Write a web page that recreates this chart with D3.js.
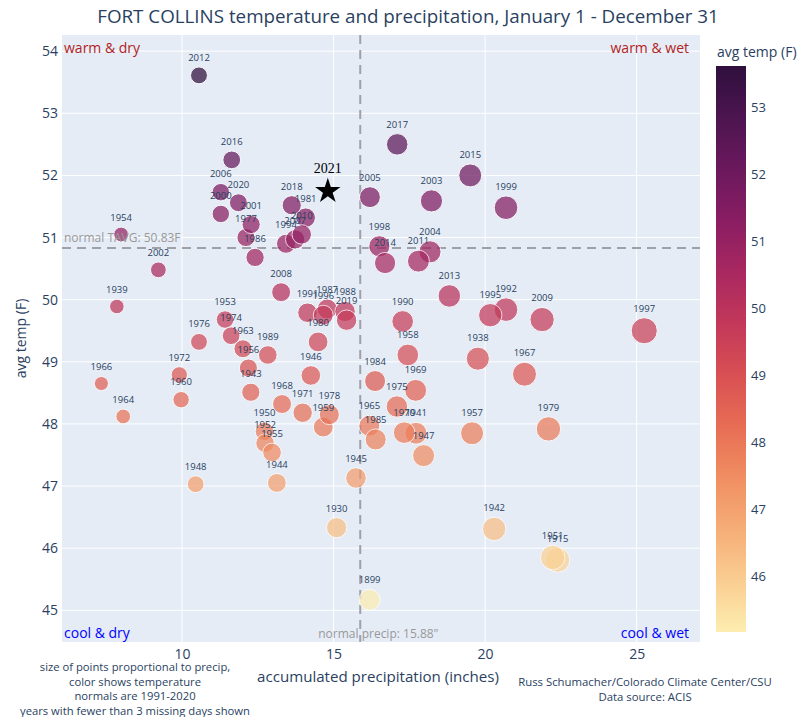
<!DOCTYPE html>
<html>
<head>
<meta charset="utf-8">
<script src="https://cdn.jsdelivr.net/npm/d3@7"></script>
<style>
  html, body { margin: 0; padding: 0; background: #fff; }
  svg { display: block; font-family: "Open Sans", "DejaVu Sans", sans-serif; }
</style>
</head>
<body>
<svg id="chart" width="806" height="717"></svg>
<script>
// ---------------- data ----------------
const years  = [1899,1915,1930,1938,1939,1941,1942,1943,1944,1945,1946,1947,1948,1950,1951,1952,1953,1954,1955,1956,1957,1958,1959,1960,1963,1964,1965,1966,1967,1968,1969,1970,1971,1972,1974,1975,1976,1977,1978,1979,1980,1981,1984,1985,1986,1987,1988,1989,1990,1991,1992,1994,1995,1996,1997,1998,1999,2000,2001,2002,2003,2004,2005,2006,2007,2008,2009,2010,2011,2012,2013,2014,2015,2016,2017,2018,2019,2020];
const precip = [16.19,22.39,15.10,19.76,7.85,17.72,20.30,12.27,13.13,15.74,14.25,17.97,10.45,12.72,22.23,12.74,11.42,7.99,12.97,12.19,19.57,17.45,14.66,9.97,12.01,8.06,16.18,7.34,21.30,13.30,17.71,17.33,13.98,9.91,11.62,17.09,10.56,12.11,14.86,22.09,14.49,14.08,16.37,16.39,12.41,14.79,15.38,12.83,17.28,14.14,20.69,13.43,20.17,14.66,25.25,16.51,20.69,11.28,12.28,9.22,18.23,18.18,16.20,11.28,13.73,13.27,21.88,13.95,17.80,10.56,18.82,16.70,19.51,11.64,17.10,13.62,15.43,11.86];
const temps  = [45.17,45.81,46.33,49.05,49.89,47.85,46.31,48.51,47.05,47.13,48.78,47.49,47.03,47.88,45.85,47.69,49.68,51.05,47.54,48.90,47.85,49.11,47.95,48.39,49.21,48.12,47.97,48.65,48.80,48.32,48.54,47.86,48.18,48.79,49.42,48.28,49.32,51.00,48.15,47.92,49.32,51.32,48.69,47.75,50.68,49.85,49.81,49.11,49.65,49.79,49.84,50.90,49.75,49.75,49.50,50.86,51.48,51.38,51.21,50.48,51.59,50.77,51.65,51.73,50.97,50.12,49.68,51.05,50.62,53.61,50.06,50.59,52.00,52.25,52.50,51.52,49.67,51.56];

const currentYear = ["2021"];
const currentPrecip = [14.81];
const currentTemp = [51.78];

const normalTemp = 50.83;
const normalPrecip = 15.88;

const xTicks = [10, 15, 20, 25];
const yTicks = [45, 46, 47, 48, 49, 50, 51, 52, 53, 54];
const cbTicks = [46, 47, 48, 49, 50, 51, 52, 53];

const matter = ["rgb(253,237,176)","rgb(250,205,145)","rgb(246,173,119)","rgb(240,142,98)","rgb(231,109,84)","rgb(216,80,83)","rgb(195,56,90)","rgb(168,40,96)","rgb(138,29,99)","rgb(107,24,93)","rgb(76,21,80)","rgb(47,15,61)"];

const notesLeft = ["size of points proportional to precip,", "color shows temperature", "normals are 1991-2020", "years with fewer than 3 missing days shown"];
const notesRight = ["Russ Schumacher/Colorado Climate Center/CSU", "Data source: ACIS"];

// ---------------- layout ----------------
const svg = d3.select("#chart");
const L = 62, R = 700, T = 35, B = 642;
const fontColor = "#2a3f5f";

const x = d3.scaleLinear().domain([6.04, 27.09]).range([L, R]);
const y = d3.scaleLinear().domain([44.49, 54.26]).range([B, T]);

const tMin = d3.min(temps), tMax = d3.max(temps);
const colorInterp = d3.interpolateRgbBasis(matter);
const color = v => colorInterp((v - tMin) / (tMax - tMin));
const radius = p => 2.6 * Math.sqrt(p);

function fit(sel, target) {
  const w = sel.node().getComputedTextLength();
  const fs = parseFloat(sel.attr("font-size"));
  sel.attr("font-size", (fs * target / w).toFixed(2));
}

// background
svg.append("rect").attr("x", L).attr("y", T).attr("width", R - L).attr("height", B - T).attr("fill", "#e5ecf6");

// grid
const grid = svg.append("g");
grid.selectAll(".gx").data(xTicks).join("line")
  .attr("x1", d => x(d)).attr("x2", d => x(d)).attr("y1", T).attr("y2", B)
  .attr("stroke", "#fff").attr("stroke-width", 1);
grid.selectAll(".gy").data(yTicks).join("line")
  .attr("y1", d => y(d)).attr("y2", d => y(d)).attr("x1", L).attr("x2", R)
  .attr("stroke", "#fff").attr("stroke-width", 1);

// axes (d3 axes, domain hidden)
const xAxis = svg.append("g").attr("transform", `translate(0,${B})`)
  .call(d3.axisBottom(x).tickValues(xTicks).tickSize(0).tickPadding(7));
const yAxis = svg.append("g").attr("transform", `translate(${L},0)`)
  .call(d3.axisLeft(y).tickValues(yTicks).tickSize(0).tickPadding(4));
[xAxis, yAxis].forEach(a => {
  a.select(".domain").remove();
  a.selectAll("text").attr("fill", fontColor).attr("font-size", 14).attr("font-family", "Open Sans");
});

// normal lines
svg.append("line").attr("x1", L).attr("x2", R).attr("y1", y(normalTemp)).attr("y2", y(normalTemp))
  .attr("stroke", "#a0a0a8").attr("stroke-width", 2).attr("stroke-dasharray", "9,6");
svg.append("line").attr("x1", x(normalPrecip)).attr("x2", x(normalPrecip)).attr("y1", T).attr("y2", B)
  .attr("stroke", "#a0a0a8").attr("stroke-width", 2).attr("stroke-dasharray", "9,6");

// points
const pts = years.map((yr, i) => ({ year: yr, p: precip[i], t: temps[i] }));
const gPts = svg.append("g");
gPts.selectAll("circle").data(pts).join("circle")
  .attr("cx", d => x(d.p)).attr("cy", d => y(d.t)).attr("r", d => radius(d.p))
  .attr("fill", d => color(d.t)).attr("stroke", "#fff").attr("stroke-width", 1)
  .attr("opacity", 0.72);
gPts.selectAll("text").data(pts).join("text")
  .attr("x", d => x(d.p)).attr("y", d => y(d.t) - radius(d.p) - 6)
  .attr("text-anchor", "middle").attr("font-size", 9.5).attr("fill", fontColor)
  .text(d => d.year);

// current year star
const cur = currentYear.map((yr, i) => ({ year: yr, p: currentPrecip[i], t: currentTemp[i] }));
svg.selectAll(".star").data(cur).join("path")
  .attr("transform", d => `translate(${x(d.p)},${y(d.t) + 2})`)
  .attr("d", d3.symbol(d3.symbolStar, 200)).attr("fill", "#000");
svg.selectAll(".starlbl").data(cur).join("text")
  .attr("x", d => x(d.p)).attr("y", d => y(d.t) - 16)
  .attr("text-anchor", "middle").attr("font-family", "Liberation Serif, Times New Roman, serif")
  .attr("font-size", 14).attr("fill", "#000").text(d => d.year);

// quadrant annotations
const ann = svg.append("g").attr("font-size", 14);
ann.append("text").attr("x", L + 2).attr("y", T + 18).attr("fill", "#b22222").text("warm & dry");
ann.append("text").attr("x", R - 11).attr("y", T + 18).attr("text-anchor", "end").attr("fill", "#b22222").text("warm & wet");
ann.append("text").attr("x", L + 2).attr("y", B - 4).attr("fill", "#0000ff").text("cool & dry");
ann.append("text").attr("x", R - 11).attr("y", B - 4).attr("text-anchor", "end").attr("fill", "#0000ff").text("cool & wet");
svg.append("text").attr("x", L + 2).attr("y", y(normalTemp) - 6).attr("font-size", 12).attr("fill", "#999").text("normal TAVG: " + normalTemp + "F");
svg.append("text").attr("x", x(normalPrecip) - 42).attr("y", B - 4).attr("font-size", 12).attr("fill", "#999").text("normal precip: " + normalPrecip + "\"");

// title
const title = svg.append("text").attr("x", 408).attr("y", 23).attr("text-anchor", "middle")
  .attr("font-size", 17).attr("fill", fontColor)
  .text("FORT COLLINS temperature and precipitation, January 1 - December 31");
fit(title, 622);

// axis titles
const xt = svg.append("text").attr("x", 378).attr("y", 682).attr("text-anchor", "middle")
  .attr("font-size", 15).attr("fill", fontColor).text("accumulated precipitation (inches)");
fit(xt, 242);
svg.append("text").attr("transform", `translate(26,${(T + B) / 2}) rotate(-90)`).attr("text-anchor", "middle")
  .attr("font-size", 14).attr("fill", fontColor).text("avg temp (F)");

// notes
const nl = svg.append("g").selectAll("text").data(notesLeft).join("text")
  .attr("x", 135).attr("y", (d, i) => 671 + i * 14.7).attr("text-anchor", "middle")
  .attr("font-size", 10.5).attr("fill", fontColor).text(d => d);
fit(d3.select(nl.nodes()[3]), 230);
nl.attr("font-size", d3.select(nl.nodes()[3]).attr("font-size"));
const nr = svg.append("g").selectAll("text").data(notesRight).join("text")
  .attr("x", 645).attr("y", (d, i) => 686 + i * 14.7).attr("text-anchor", "middle")
  .attr("font-size", 10.5).attr("fill", fontColor).text(d => d);
fit(d3.select(nr.nodes()[0]), 254);
nr.attr("font-size", d3.select(nr.nodes()[0]).attr("font-size"));

// colorbar
const cbX = 716, cbW = 30, cbT = 66, cbB = 632;
const cy = d3.scaleLinear().domain([tMin, tMax]).range([cbB, cbT]);
const defs = svg.append("defs");
const grad = defs.append("linearGradient").attr("id", "cbgrad").attr("x1", 0).attr("x2", 0).attr("y1", 1).attr("y2", 0);
grad.selectAll("stop").data(matter).join("stop")
  .attr("offset", (d, i) => i / (matter.length - 1)).attr("stop-color", d => d);
svg.append("rect").attr("x", cbX).attr("y", cbT).attr("width", cbW).attr("height", cbB - cbT).attr("fill", "url(#cbgrad)");
const cbAxis = svg.append("g").attr("transform", `translate(${cbX + cbW},0)`)
  .call(d3.axisRight(cy).tickValues(cbTicks).tickSize(0).tickPadding(5));
cbAxis.select(".domain").remove();
cbAxis.selectAll("text").attr("fill", fontColor).attr("font-size", 13).attr("font-family", "Open Sans");
svg.append("text").attr("x", cbX + 1).attr("y", 57).attr("font-size", 14).attr("fill", fontColor).text("avg temp (F)");
</script>
</body>
</html>
